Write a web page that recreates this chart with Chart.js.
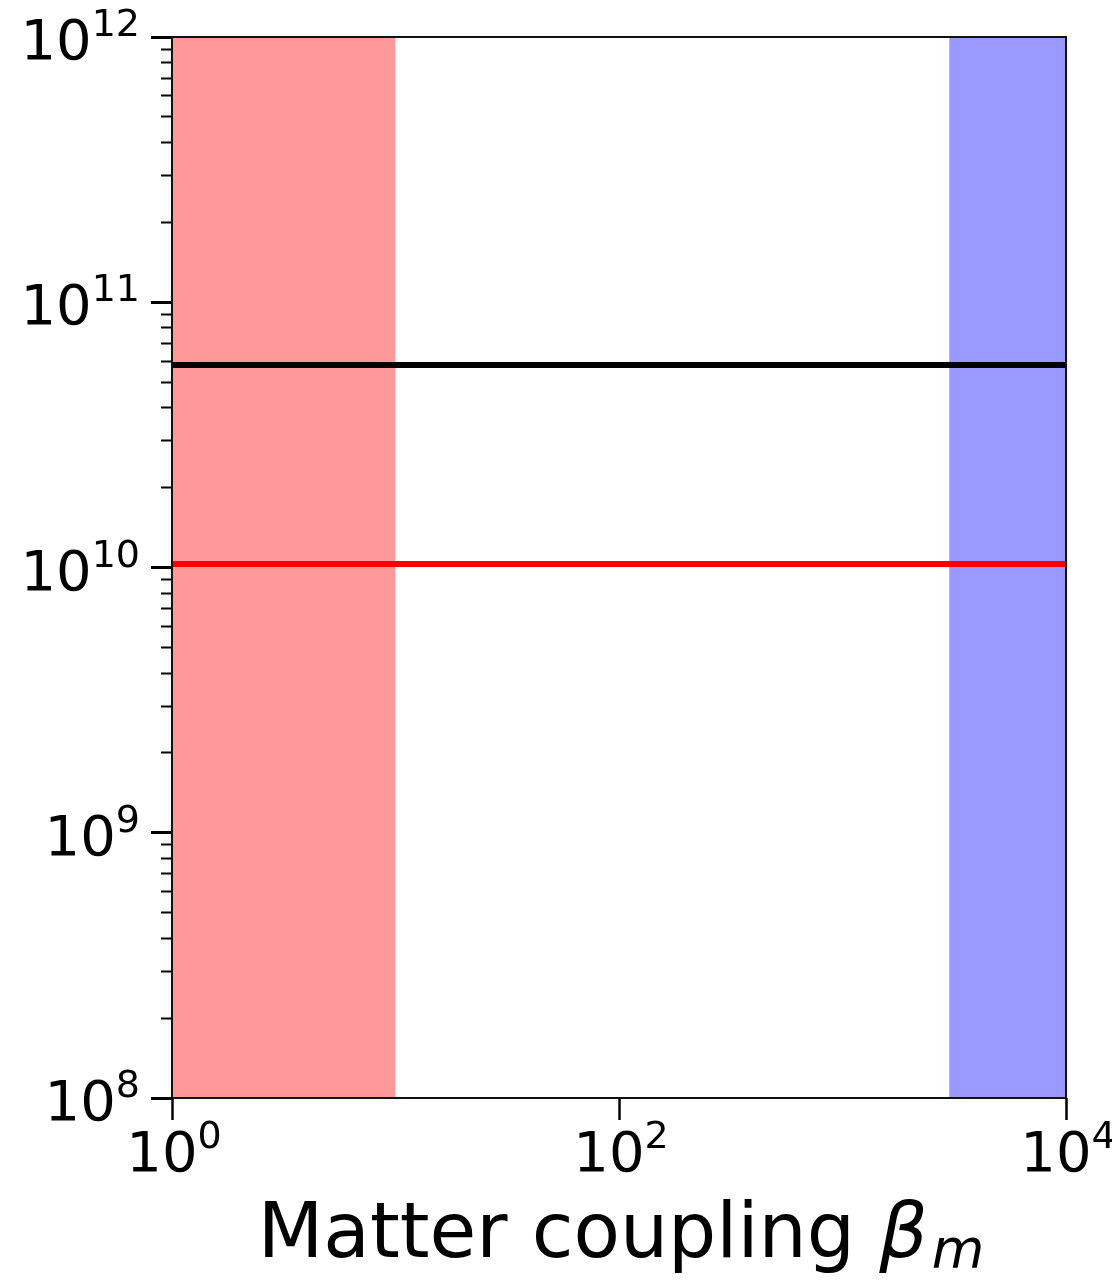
<!DOCTYPE html>
<html>
<head>
<meta charset="utf-8">
<script src="https://cdn.jsdelivr.net/npm/chart.js@4.4.0/dist/chart.umd.min.js"></script>
<style>
  body { margin: 0; background: #fff; }
</style>
</head>
<body>
<canvas id="myChart" width="1112" height="1283"></canvas>
<script>
// axis ranges and ticks
const xRange = [1, 1e4];
const yRange = [1e8, 1e12];
const xMajorTicks = [1, 100, 10000];
const yMajorTicks = [1e8, 1e9, 1e10, 1e11, 1e12];
const yMinorSteps = [2, 3, 4, 5, 6, 7, 8, 9];

// shaded regions (x from / to)
const redBandX = [1, 10];
const blueBandX = [3000, 10000];

// horizontal levels
const blackLineY = 5.8e10;
const redLineY = 1.03e10;

function isDecade(v){
  const l = Math.log10(v);
  return Math.abs(l - Math.round(l)) < 1e-9;
}

const yTickValues = [];
yMajorTicks.forEach((d, i) => {
  yTickValues.push(d);
  if (i < yMajorTicks.length - 1) yMinorSteps.forEach(m => yTickValues.push(m * d));
});

const BASE_FONT = '56px "DejaVu Sans"';
const EXP_FONT = '38px "DejaVu Sans"';

// draws "10" with a raised exponent, like matplotlib's mathtext labels
function drawPow(ctx, exp, x, baseline, align){
  ctx.font = BASE_FONT;
  const w1 = ctx.measureText('10').width;
  ctx.font = EXP_FONT;
  const w2 = ctx.measureText(String(exp)).width;
  let x0 = x;
  if (align === 'right') x0 = x - w1 - w2;
  if (align === 'center') x0 = x - (w1 + w2) / 2;
  ctx.font = BASE_FONT;
  ctx.fillText('10', x0, baseline);
  ctx.font = EXP_FONT;
  ctx.fillText(String(exp), x0 + w1, baseline - 23);
}

const tickLabelPlugin = {
  id: 'powLabels',
  afterDraw(chart){
    const {ctx, scales} = chart;
    ctx.save();
    ctx.fillStyle = '#000';
    ctx.textAlign = 'left';
    ctx.textBaseline = 'alphabetic';
    scales.y.ticks.forEach(t => {
      if (!isDecade(t.value)) return;
      const py = scales.y.getPixelForValue(t.value);
      drawPow(ctx, Math.round(Math.log10(t.value)), 140, py + 22, 'right');
    });
    scales.x.ticks.forEach(t => {
      const px = scales.x.getPixelForValue(t.value);
      drawPow(ctx, Math.round(Math.log10(t.value)), px + 2, 1171, 'center');
    });
    ctx.restore();
  }
};

const framePlugin = {
  id: 'frame',
  afterDatasetsDraw(chart){
    const {ctx, chartArea: a} = chart;
    ctx.save();
    ctx.strokeStyle = '#111';
    ctx.lineWidth = 2;
    ctx.strokeRect(a.left, a.top, a.right - a.left, a.bottom - a.top);
    ctx.restore();
  }
};

const titlePlugin = {
  id: 'xtitle',
  afterDraw(chart){
    const {ctx, chartArea: a} = chart;
    const main = 'Matter coupling ';
    const fMain = '76px "DejaVu Sans"';
    const fBeta = 'italic 76px "DejaVu Sans"';
    const fSub = 'italic 54px "DejaVu Sans"';
    ctx.save();
    ctx.fillStyle = '#000';
    ctx.textBaseline = 'alphabetic';
    ctx.font = fMain; const w1 = ctx.measureText(main).width;
    ctx.font = fBeta; const w2 = ctx.measureText('β').width;
    ctx.font = fSub; const w3 = ctx.measureText('m').width;
    const total = w1 + w2 + w3 + 4;
    let x = 621 - total / 2;
    const base = 1257;
    ctx.font = fMain; ctx.fillText(main, x, base); x += w1;
    ctx.font = fBeta; ctx.fillText('β', x, base); x += w2 + 4;
    ctx.font = fSub; ctx.fillText('m', x, base + 10);
    ctx.restore();
  }
};

const ctx = document.getElementById('myChart');
new Chart(ctx, {
  type: 'scatter',
  data: {
    datasets: [
      {
        label: 'black',
        data: [{x: xRange[0], y: blackLineY}, {x: xRange[1], y: blackLineY}],
        showLine: true,
        borderColor: '#000',
        borderWidth: 6,
        pointRadius: 0
      },
      {
        label: 'red',
        data: [{x: xRange[0], y: redLineY}, {x: xRange[1], y: redLineY}],
        showLine: true,
        borderColor: '#ff0000',
        borderWidth: 6,
        pointRadius: 0
      },
      {
        label: 'red band',
        data: [{x: redBandX[0], y: yRange[1]}, {x: redBandX[1], y: yRange[1]}],
        showLine: true,
        borderWidth: 0,
        pointRadius: 0,
        backgroundColor: '#ff9999',
        fill: 'start'
      },
      {
        label: 'blue band',
        data: [{x: blueBandX[0], y: yRange[1]}, {x: blueBandX[1], y: yRange[1]}],
        showLine: true,
        borderWidth: 0,
        pointRadius: 0,
        backgroundColor: '#9999ff',
        fill: 'start'
      }
    ]
  },
  options: {
    responsive: false,
    animation: false,
    layout: { padding: { top: 37, right: 46, left: 0, bottom: 0 } },
    plugins: { legend: { display: false }, tooltip: { enabled: false } },
    scales: {
      x: {
        type: 'logarithmic',
        min: xRange[0],
        max: xRange[1],
        afterBuildTicks: s => { s.ticks = xMajorTicks.map(v => ({value: v})); },
        afterFit: s => { s.height = 185; },
        border: { display: false },
        grid: {
          drawOnChartArea: false,
          tickLength: 22,
          tickWidth: 2.5,
          tickColor: '#000'
        },
        ticks: { display: false, autoSkip: false }
      },
      y: {
        type: 'logarithmic',
        min: yRange[0],
        max: yRange[1],
        afterBuildTicks: s => { s.ticks = yTickValues.map(v => ({value: v})); },
        afterFit: s => { s.width = 172; },
        border: { display: false },
        grid: {
          drawOnChartArea: false,
          tickLength: 21,
          tickColor: '#000',
          tickWidth: c => isDecade(c.tick.value) ? 3 : 2,
          tickBorderDash: c => isDecade(c.tick.value) ? [] : [11, 1000],
          tickBorderDashOffset: c => isDecade(c.tick.value) ? 0 : 1001
        },
        ticks: { display: false, autoSkip: false }
      }
    }
  },
  plugins: [framePlugin, tickLabelPlugin, titlePlugin]
});
</script>
</body>
</html>
